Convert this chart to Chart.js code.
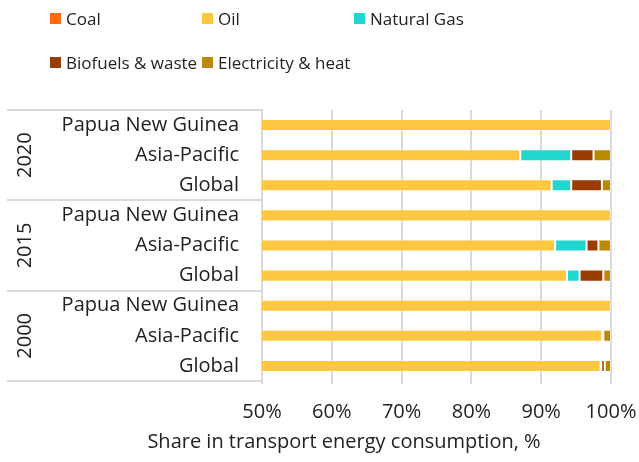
<!DOCTYPE html>
<html>
<head>
<meta charset="utf-8">
<script src="https://cdn.jsdelivr.net/npm/chart.js@4.4.1/dist/chart.umd.min.js"></script>
<style>
  html, body { margin: 0; padding: 0; background: #fff; }
  #wrap { position: relative; width: 639px; height: 462px; font-family: "Open Sans", sans-serif; }
  #legend { position: absolute; left: 50px; top: 0; display: grid; grid-template-columns: 152px 152px 152px; row-gap: 8px; }
  .item { display: flex; align-items: center; height: 36px; font-size: 17px; color: #222; white-space: nowrap; }
  .box { width: 11px; height: 11px; margin-right: 5px; }
</style>
</head>
<body>
<div id="wrap">
  <canvas id="chart" width="639" height="462"></canvas>
  <div id="legend"></div>
</div>
<script>
const categories = [
  "Papua New Guinea", "Asia-Pacific", "Global",
  "Papua New Guinea", "Asia-Pacific", "Global",
  "Papua New Guinea", "Asia-Pacific", "Global"
];
const years = ["2020", "2015", "2000"];

const seriesNames = ["Coal", "Oil", "Natural Gas", "Biofuels & waste", "Electricity & heat"];
const seriesColors = ["#ff6a10", "#fdc83f", "#22d6d0", "#9a3c00", "#b98900"];

// shares in %, rows follow categories top to bottom
const coal = [0, 0, 0, 0, 0, 0, 0, 0, 0];
const oil = [100, 87.0, 91.5, 100, 92.0, 93.7, 100, 98.75, 98.5];
const naturalGas = [0, 7.3, 2.8, 0, 4.5, 1.8, 0, 0.15, 0.1];
const biofuels = [0, 3.2, 4.4, 0, 1.7, 3.4, 0, 0, 0.5];
const electricity = [0, 2.5, 1.3, 0, 1.8, 1.1, 0, 1.1, 0.9];

const xTicks = [50, 60, 70, 80, 90, 100];

const FONT = "Open Sans";
const values = [coal, oil, naturalGas, biofuels, electricity];

const legend = document.getElementById("legend");
seriesNames.forEach((name, i) => {
  const el = document.createElement("div");
  el.className = "item";
  el.innerHTML = '<span class="box" style="background:' + seriesColors[i] + '"></span>' + name;
  legend.appendChild(el);
});

const groupPlugin = {
  id: "groups",
  afterDraw(chart) {
    const ctx = chart.ctx;
    const y = chart.scales.y;
    const step = y.getPixelForValue(1) - y.getPixelForValue(0);
    ctx.save();
    ctx.strokeStyle = "#d9d9d9";
    ctx.lineWidth = 2;
    for (let g = 0; g <= years.length; g++) {
      const py = Math.round(y.getPixelForValue(g * 3) - step / 2);
      ctx.beginPath();
      ctx.moveTo(7, py);
      ctx.lineTo(chart.chartArea.left, py);
      ctx.stroke();
    }
    ctx.fillStyle = "#222";
    ctx.font = "20px '" + FONT + "'";
    ctx.textAlign = "center";
    ctx.textBaseline = "middle";
    years.forEach((yr, g) => {
      const cy = y.getPixelForValue(g * 3 + 1);
      ctx.save();
      ctx.translate(25, cy);
      ctx.rotate(-Math.PI / 2);
      ctx.fillText(yr, 0, 0);
      ctx.restore();
    });
    ctx.fillText("Share in transport energy consumption, %", 344, 442);
    ctx.restore();
  }
};

new Chart(document.getElementById("chart"), {
  type: "bar",
  data: {
    labels: categories,
    datasets: seriesNames.map((name, i) => ({
      label: name,
      data: values[i],
      backgroundColor: seriesColors[i],
      borderColor: "rgba(255,255,255,0.35)",
      borderWidth: 1,
      borderSkipped: false,
      categoryPercentage: 0.8,
      barPercentage: 0.5
    }))
  },
  options: {
    indexAxis: "y",
    responsive: false,
    animation: false,
    layout: { padding: { top: 110, right: 0, left: 0, bottom: 0 } },
    plugins: { legend: { display: false }, tooltip: { enabled: false } },
    scales: {
      x: {
        stacked: true,
        min: 50,
        max: 100,
        afterBuildTicks: (s) => { s.ticks = xTicks.map(v => ({ value: v })); },
        afterFit: (s) => { s.height = 81; s.paddingRight = 28; },
        ticks: {
          color: "#222",
          padding: 16,
          font: { family: FONT, size: 20 },
          callback: (v) => v + "%"
        },
        grid: { color: "#d9d9d9", lineWidth: 2, drawTicks: true, tickLength: 3 },
        border: { display: false }
      },
      y: {
        stacked: true,
        afterFit: (s) => { s.width = 262; },
        ticks: {
          color: "#222",
          padding: 23,
          font: { family: FONT, size: 20 }
        },
        grid: { display: false, drawTicks: false },
        border: { display: true, color: "#d9d9d9", width: 2 }
      }
    }
  },
  plugins: [groupPlugin]
});
</script>
</body>
</html>
